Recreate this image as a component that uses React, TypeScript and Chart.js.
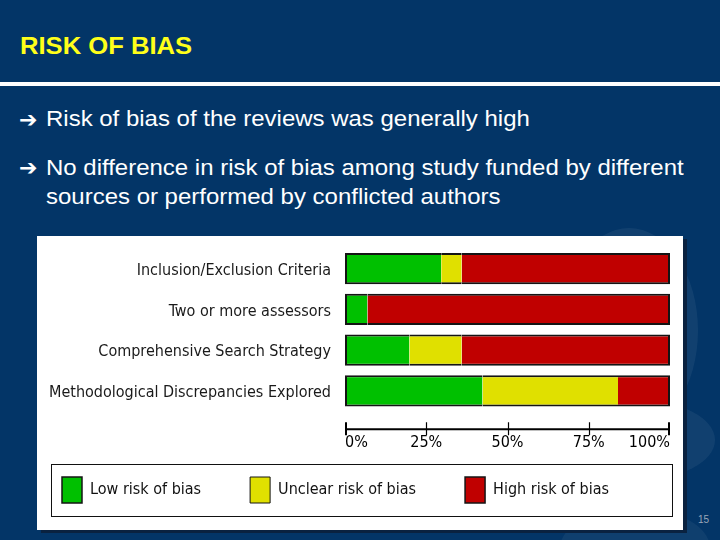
import React, { useEffect, useRef } from "react";
import { Chart, registerables } from "chart.js";

Chart.register(...registerables);

// ---- data ----
const categories = [
  "Inclusion/Exclusion Criteria",
  "Two or more assessors",
  "Comprehensive Search Strategy",
  "Methodological Discrepancies Explored",
];
const lowRisk = [29.6, 6.9, 19.8, 42.3];
const unclearRisk = [6.3, 0, 16.1, 41.7];
const highRisk = [64.1, 93.1, 64.1, 16.0];
const seriesNames = ["Low risk of bias", "Unclear risk of bias", "High risk of bias"];
const seriesColors = ["#00C000", "#E0E000", "#C00000"];
const xMin = 0;
const xMax = 100;
const xStep = 25;

const CHART_FONT = '"DejaVu Sans Condensed", "Liberation Sans Narrow", sans-serif';
const LEGEND_PAD = 49;

const zeroPadding = (s: any) => {
  s.paddingTop = 0;
  s.paddingBottom = 0;
  s.paddingLeft = 0;
  s.paddingRight = 0;
};

const axisAndFramePlugin = {
  id: "axisAndFrame",
  afterLayout(chart: any) {
    // place the legend row below the axis, like the original figure
    const lg = chart.legend;
    const ca = chart.chartArea;
    if (!lg) return;
    const P = lg.options.labels.padding;
    const swatchTop = ca.bottom + 65.75;
    const swatchLeft = ca.left - 283;
    const w = lg.width;
    const h = lg.height;
    lg.top = swatchTop - P;
    lg.bottom = lg.top + h;
    lg.left = swatchLeft - P;
    lg.right = lg.left + w;
  },
  afterDraw(chart: any) {
    const { ctx, chartArea, scales } = chart;
    const x = scales.x;
    const y0 = chartArea.bottom + 18;
    ctx.save();
    ctx.strokeStyle = "#000";
    ctx.lineWidth = 2;
    ctx.beginPath();
    ctx.moveTo(x.left, y0);
    ctx.lineTo(x.right, y0);
    ctx.stroke();
    const n = x.ticks.length;
    x.ticks.forEach((t: any, i: number) => {
      const px = Math.round(x.getPixelForValue(t.value));
      const end = i === 0 || i === n - 1;
      const xx = end ? (i === 0 ? px + 1 : px - 1) : px + 0.5;
      ctx.lineWidth = end ? 2 : 1.2;
      ctx.beginPath();
      ctx.moveTo(xx, y0 - 7);
      ctx.lineTo(xx, y0 + 6);
      ctx.stroke();
    });
    // frame around legend
    const lg = chart.legend;
    if (lg) {
      const P = lg.options.labels.padding;
      const left = lg.left + P - 11;
      const top = lg.top + P - 13;
      const right = chartArea.right + 2;
      const bottom = lg.top + P + 26 + 13;
      ctx.lineWidth = 1;
      ctx.strokeStyle = "#111";
      ctx.strokeRect(Math.round(left) + 0.5, Math.round(top) + 0.5, Math.round(right - left), Math.round(bottom - top));
    }
    ctx.restore();
  },
};

function RiskChart() {
  const ref = useRef<HTMLCanvasElement | null>(null);
  useEffect(() => {
    if (!ref.current) return;
    const values = [lowRisk, unclearRisk, highRisk];
    const borders = [
      { top: 2, bottom: 2, left: 2, right: 0 },
      { top: 2, bottom: 2, left: 0, right: 0 },
      { top: 2, bottom: 2, left: 0, right: 2 },
    ];
    const chart = new Chart(ref.current, {
      type: "bar",
      data: {
        labels: categories,
        datasets: seriesNames.map((name, i) => ({
          label: name,
          data: values[i],
          backgroundColor: seriesColors[i],
          borderColor: "#141414",
          borderWidth: borders[i] as any,
          borderSkipped: false as any,
          barPercentage: 0.765,
          categoryPercentage: 1,
        })),
      },
      options: {
        indexAxis: "y",
        responsive: false,
        animation: false,
        maintainAspectRatio: false,
        layout: { autoPadding: false, padding: { left: 0, right: 13, top: 12.25, bottom: 1 } },
        plugins: {
          tooltip: { enabled: false },
          title: { display: false },
          legend: {
            display: true,
            position: "bottom",
            align: "start",
            labels: {
              boxWidth: 20,
              boxHeight: 26,
              padding: LEGEND_PAD,
              color: "#111",
              font: { family: CHART_FONT, size: 16 },
            },
          },
        },
        scales: {
          x: {
            stacked: true,
            min: xMin,
            max: xMax,
            grid: { display: false, drawTicks: false },
            border: { display: false },
            ticks: {
              stepSize: xStep,
              callback: (v: any) => v + "%",
              align: "inner",
              padding: 21.5,
              color: "#000",
              maxRotation: 0,
              autoSkip: false,
              font: { family: CHART_FONT, size: 16 },
            },
            afterFit: (s: any) => {
              s.height = 38.75;
              zeroPadding(s);
            },
          },
          y: {
            stacked: true,
            offset: true,
            grid: { display: false, drawTicks: false },
            border: { display: false },
            ticks: {
              padding: 14,
              labelOffset: 2,
              color: "#1a1a1a",
              autoSkip: false,
              font: { family: CHART_FONT, size: 16 },
            },
            afterFit: (s: any) => {
              s.width = 345;
              zeroPadding(s);
            },
          },
        },
      },
      plugins: [axisAndFramePlugin],
    });
    return () => chart.destroy();
  }, []);
  return (
    <canvas
      ref={ref}
      width={683}
      height={300}
      style={{ position: "absolute", left: 0, top: 236, width: 683, height: 300 }}
    />
  );
}

const textBase: React.CSSProperties = {
  position: "absolute",
  fontFamily: '"Liberation Sans", Arial, sans-serif',
  whiteSpace: "nowrap",
  transformOrigin: "left top",
  transform: "scaleX(1.09)",
};

export default function App() {
  const arrowStyle: React.CSSProperties = {
    position: "absolute",
    left: 19,
    fontFamily: '"DejaVu Sans", sans-serif',
    fontSize: 22,
    lineHeight: "22px",
    color: "#fff",
    fontWeight: "bold",
  };
  return (
    <div
      style={{
        position: "fixed",
        left: 0,
        top: 0,
        width: 720,
        height: 540,
        background: "#033567",
        overflow: "hidden",
      }}
    >
      {/* decorative background shapes */}
      <div style={{ position: "absolute", left: 560, top: 228, width: 138, height: 205, borderRadius: "50%", background: "rgba(255,255,255,0.06)" }} />
      <div style={{ position: "absolute", left: 560, top: 400, width: 155, height: 80, borderRadius: "50%", background: "rgba(255,255,255,0.06)" }} />
      <div style={{ position: "absolute", left: 560, top: 508, width: 150, height: 80, borderRadius: "50%", background: "rgba(255,255,255,0.05)" }} />

      <div style={{ ...textBase, left: 20, top: 35, fontSize: 23.5, lineHeight: "23.5px", fontWeight: "bold", color: "#FFFF1A" }}>
        RISK OF BIAS
      </div>
      <div style={{ position: "absolute", left: 0, top: 82, width: 720, height: 4, background: "#fff" }} />

      <div style={{ ...arrowStyle, top: 109 }}>➔</div>
      <div style={{ ...textBase, left: 46, top: 108, fontSize: 22, lineHeight: "22px", color: "#fff" }}>
        Risk of bias of the reviews was generally high
      </div>
      <div style={{ ...arrowStyle, top: 157 }}>➔</div>
      <div style={{ ...textBase, left: 46, top: 157, fontSize: 22, lineHeight: "22px", color: "#fff" }}>
        No difference in risk of bias among study funded by different
      </div>
      <div style={{ ...textBase, left: 46, top: 185.5, fontSize: 22, lineHeight: "22px", color: "#fff" }}>
        sources or performed by conflicted authors
      </div>

      <div
        style={{
          position: "absolute",
          left: 37,
          top: 236,
          width: 646,
          height: 294,
          background: "#fff",
          boxShadow: "4px 3px 0 #0a2240",
        }}
      />
      <RiskChart />

      <div style={{ position: "absolute", left: 698, top: 514, fontFamily: '"Liberation Sans", Arial, sans-serif', fontSize: 10, color: "#9aa6b8" }}>
        15
      </div>
    </div>
  );
}
